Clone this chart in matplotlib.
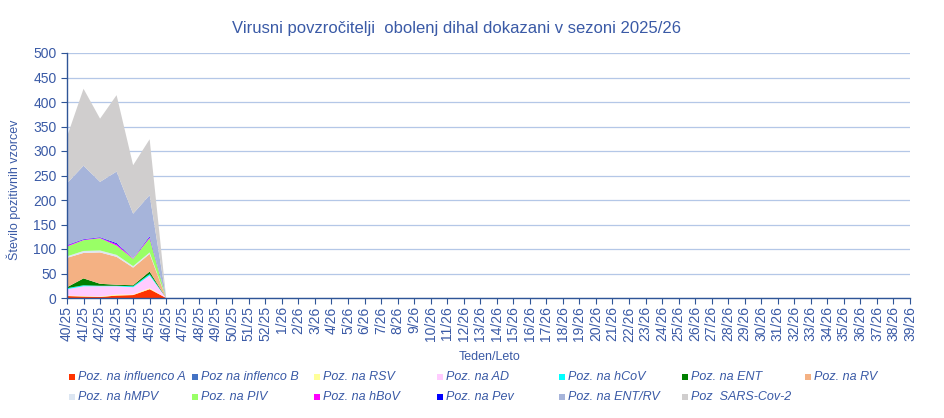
"""
Virusni povzročitelji obolenj dihal - stacked area chart, sezona 2025/26.
Saves the figure to out.png.
"""

import matplotlib.pyplot as plt
from matplotlib.patches import Rectangle

plt.rcParams['font.family'] = ['Liberation Sans', 'DejaVu Sans']

# week labels for the whole season, 40/25 .. 39/26
weeks = [f"{w}/25" for w in range(40, 53)] + [f"{w}/26" for w in range(1, 40)]

# data reported so far (40/25 .. 46/25)
flu_a = [4, 3, 2, 5, 6, 18, 0]
flu_b = [0, 0, 0, 0, 0, 0, 0]
rsv = [1, 1, 1, 2, 1, 2, 0]
adv = [13, 20, 21, 17, 15, 26, 0]
hcov = [2, 2, 1, 1, 2, 3, 0]
ent = [2, 14, 4, 2, 2, 5, 0]
rv = [60, 52, 64, 57, 36, 36, 0]
hmpv = [3, 4, 4, 4, 3, 3, 0]
piv = [20, 22, 25, 19, 15, 29, 0]
hbov = [2, 1, 1, 3, 1, 2, 0]
pev = [1, 1, 1, 2, 0, 2, 0]
ent_rv = [126, 150, 113, 146, 91, 84, 0]
sars = [95, 157, 129, 156, 99, 114, 0]

series_labels = ['Poz. na influenco A', 'Poz na inflenco B', 'Poz. na RSV',
                 'Poz. na AD', 'Poz. na hCoV', 'Poz. na ENT', 'Poz. na RV',
                 'Poz. na hMPV', 'Poz. na PIV', 'Poz. na hBoV', 'Poz. na Pev',
                 'Poz. na ENT/RV', 'Poz  SARS-Cov-2']
series = [flu_a, flu_b, rsv, adv, hcov, ent, rv, hmpv, piv, hbov, pev, ent_rv, sars]
colors = ['#FF3300', '#4472C4', '#FFFF99', '#FFCCFF', '#00FFFF', '#008000',
          '#F4B183', '#DCE6F2', '#99FF66', '#FF00FF', '#0000FF', '#A6B4DA',
          '#D0CECE']

text_col = '#3A5AA6'
axis_col = '#2F5597'
grid_col = '#B4C7E7'

fig = plt.figure(figsize=(9.45, 4.18), dpi=100)
ax = fig.add_axes([67 / 945, 1 - 298 / 418, (910 - 67) / 945, (298 - 53) / 418])

x = list(range(len(flu_a)))
ax.stackplot(x, *series, colors=colors, linewidth=0)

ax.set_xlim(0, len(weeks) - 1)
ax.set_ylim(0, 500)
ax.set_yticks(range(0, 501, 50))
ax.set_xticks(range(len(weeks)))
ax.set_xticklabels(weeks, rotation=90, fontsize=10, color=text_col)
ax.tick_params(axis='y', labelsize=10, labelcolor=text_col, colors=axis_col, length=4)
ax.tick_params(axis='x', colors=axis_col, length=4, labelcolor=text_col, pad=2)
ax.yaxis.grid(True, color=grid_col, linewidth=0.9)
ax.set_axisbelow(True)
for s in ['top', 'right']:
    ax.spines[s].set_visible(False)
for s in ['left', 'bottom']:
    ax.spines[s].set_color(axis_col)
    ax.spines[s].set_linewidth(1.0)

fig.text(457 / 945, 1 - 28 / 418, 'Virusni povzročitelji  obolenj dihal dokazani v sezoni 2025/26',
         ha='center', va='center', fontsize=12, color=text_col)
fig.text(490 / 945, 1 - 357 / 418, 'Teden/Leto', ha='center', va='center',
         fontsize=9, color=text_col)
fig.text(14 / 945, 1 - 190 / 418, 'Število pozitivnih vzorcev', ha='center', va='center',
         rotation=90, fontsize=9, color=text_col)

# legend: two rows, seven equally spaced columns
for i, (lab, col) in enumerate(zip(series_labels, colors)):
    row, c = divmod(i, 7)
    x0 = 69 + c * 122.6
    y0 = 377 + row * 20
    fig.patches.append(Rectangle((x0 / 945, 1 - (y0 + 3) / 418), 6 / 945, 6 / 418,
                                 transform=fig.transFigure, facecolor=col,
                                 edgecolor='none'))
    fig.text((x0 + 9) / 945, 1 - y0 / 418, lab, ha='left', va='center',
             fontsize=9, style='italic', color=text_col)

fig.savefig('out.png', dpi=100)
